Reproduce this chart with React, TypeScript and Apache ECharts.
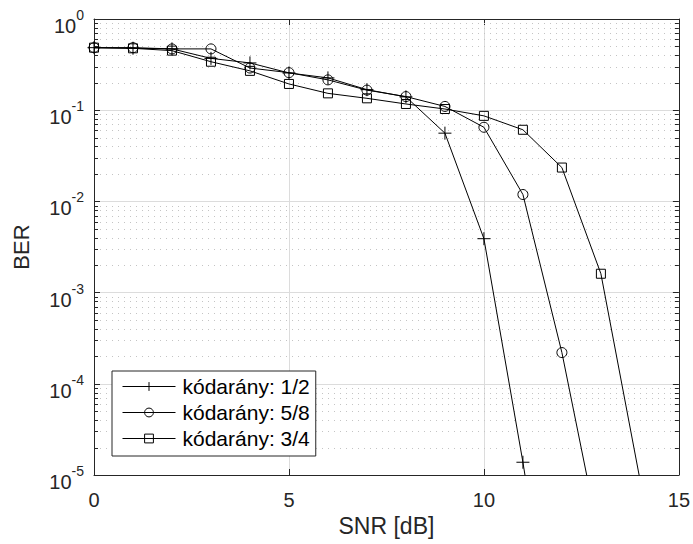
import React, { useEffect, useRef } from "react";
import * as echarts from "echarts";

const snr = [0, 1, 2, 3, 4, 5, 6, 7, 8, 9, 10, 11, 12, 13, 14];
const ber12 = [0.485, 0.478, 0.47, 0.37, 0.33, 0.256, 0.226, 0.168, 0.14, 0.056, 0.0039, 1.38e-5, 3e-8];
const ber58 = [0.485, 0.485, 0.47, 0.47, 0.29, 0.258, 0.215, 0.166, 0.141, 0.11, 0.065, 0.0119, 2.2e-4, 1.7e-6];
const ber34 = [0.485, 0.477, 0.45, 0.34, 0.27, 0.194, 0.153, 0.135, 0.117, 0.103, 0.0867, 0.061, 0.0235, 1.61e-3, 9e-6];
const seriesNames = ["kódarány: 1/2", "kódarány: 5/8", "kódarány: 3/4"];
const xTicks = [0, 5, 10, 15];
const yDecades = [-5, -4, -3, -2, -1, 0];
const minorMult = [2, 3, 4, 5, 6, 7, 8, 9];

const FONT = "Liberation Sans, Arial, Helvetica, sans-serif";
const AX = "#262626";

export default function App() {
  const ref = useRef<HTMLDivElement>(null);
  useEffect(() => {
    const chart = echarts.init(ref.current!, null, { renderer: "svg" });
    const minorVals: number[] = [];
    for (let i = 0; i < yDecades.length - 1; i++) {
      for (const m of minorMult) minorVals.push(m * Math.pow(10, yDecades[i]));
    }
    const pair = (ys: number[]) => ys.map((v, i) => [snr[i], v]);
    const markerStyle = { color: "rgba(0,0,0,0)", borderColor: "#000", borderWidth: 1 };
    const lineSeries = (name: string, ys: number[], symbol: string, size: number) => ({
      type: "line",
      name,
      data: pair(ys),
      symbol,
      symbolSize: size,
      showAllSymbol: true,
      clip: true,
      lineStyle: { color: "#000", width: 1 },
      itemStyle: markerStyle,
      color: "#000",
      z: 5,
    });
    const yLabelFmt = (v: number) => {
      const e = Math.round(Math.log10(v));
      return `{b|10}{e|${e}}`;
    };
    const yRich = {
      b: { fontSize: 20, fontFamily: FONT, color: AX, lineHeight: 28, verticalAlign: "bottom" },
      e: { fontSize: 14, fontFamily: FONT, color: AX, lineHeight: 14, verticalAlign: "top" },
    };
    chart.setOption({
      animation: false,
      backgroundColor: "#fff",
      grid: { left: 94, right: 14, top: 19, bottom: 69 },
      xAxis: [
        {
          type: "value",
          min: 0,
          max: 15,
          interval: 5,
          name: "SNR [dB]",
          nameLocation: "middle",
          nameGap: 35,
          nameTextStyle: { fontSize: 23, fontFamily: FONT, color: AX },
          axisLine: { show: true, onZero: false, lineStyle: { color: AX, width: 1 } },
          axisTick: { show: true, inside: true, length: 6, lineStyle: { color: AX } },
          axisLabel: { fontSize: 20, fontFamily: FONT, color: AX, margin: 15, formatter: (v: number) => (xTicks.includes(v) ? String(v) : "") },
          splitLine: { show: true, lineStyle: { color: "#dcdcdc", width: 1 } },
        },
        {
          type: "value",
          position: "top",
          min: 0,
          max: 15,
          interval: 5,
          axisLine: { show: true, onZero: false, lineStyle: { color: AX, width: 1 } },
          axisTick: { show: true, inside: true, length: 6, lineStyle: { color: AX } },
          axisLabel: { show: false },
          splitLine: { show: false },
        },
      ],
      yAxis: [
        {
          type: "log",
          logBase: 10,
          min: 1e-5,
          max: 1,
          interval: 1,
          name: "BER",
          nameLocation: "middle",
          nameGap: 62,
          nameTextStyle: { fontSize: 22, fontFamily: FONT, color: AX },
          axisLine: { show: true, onZero: false, lineStyle: { color: AX, width: 1 } },
          axisTick: { show: true, inside: true, length: 6, lineStyle: { color: AX } },
          axisLabel: { margin: 10, formatter: yLabelFmt, rich: yRich, padding: [6, 0, 0, 0] },
          splitLine: { show: true, lineStyle: { color: "#dcdcdc", width: 1 } },
        },
        {
          type: "log",
          logBase: 10,
          min: 1e-5,
          max: 1,
          interval: 1,
          position: "right",
          axisLine: { show: true, onZero: false, lineStyle: { color: AX, width: 1 } },
          axisTick: { show: true, inside: true, length: 6, lineStyle: { color: AX } },
          axisLabel: { show: false },
          splitLine: { show: false },
        },
      ],
      legend: {
        data: seriesNames,
        orient: "vertical",
        left: 112,
        top: 371,
        itemWidth: 53,
        itemHeight: 11,
        itemGap: 5,
        padding: [5, 6, 7, 10],
        backgroundColor: "#fff",
        borderColor: AX,
        borderWidth: 1,
        borderRadius: 0,
        textStyle: { fontSize: 21, fontFamily: FONT, color: "#000", lineHeight: 21, padding: [0, 0, 0, 2] },
        itemStyle: markerStyle,
        lineStyle: { color: "#000", width: 1 },
      },
      series: [
        {
          type: "custom",
          name: "minor",
          silent: true,
          z: 1,
          data: minorVals.map((v) => [0, v]),
          renderItem: (params: any, api: any) => {
            const cs = params.coordSys;
            const y = Math.round(api.coord([0, api.value(1)])[1]) + 0.5;
            return {
              type: "group",
              children: [
                {
                  type: "line",
                  shape: { x1: cs.x, y1: y, x2: cs.x + cs.width, y2: y },
                  style: { stroke: "#c4c4c4", lineWidth: 1, lineDash: [1, 5] },
                },
                {
                  type: "line",
                  shape: { x1: cs.x, y1: y, x2: cs.x + 4, y2: y },
                  style: { stroke: AX, lineWidth: 1 },
                },
                {
                  type: "line",
                  shape: { x1: cs.x + cs.width - 4, y1: y, x2: cs.x + cs.width, y2: y },
                  style: { stroke: AX, lineWidth: 1 },
                },
              ],
            };
          },
        },
        lineSeries(seriesNames[0], ber12, "path://M6,0L6,12M0,6L12,6", 13),
        lineSeries(seriesNames[1], ber58, "circle", 10),
        lineSeries(seriesNames[2], ber34, "rect", 9),
      ],
    });
    return () => chart.dispose();
  }, []);
  return <div ref={ref} style={{ width: 693, height: 544, position: "absolute", left: 0, top: 0 }} />;
}
